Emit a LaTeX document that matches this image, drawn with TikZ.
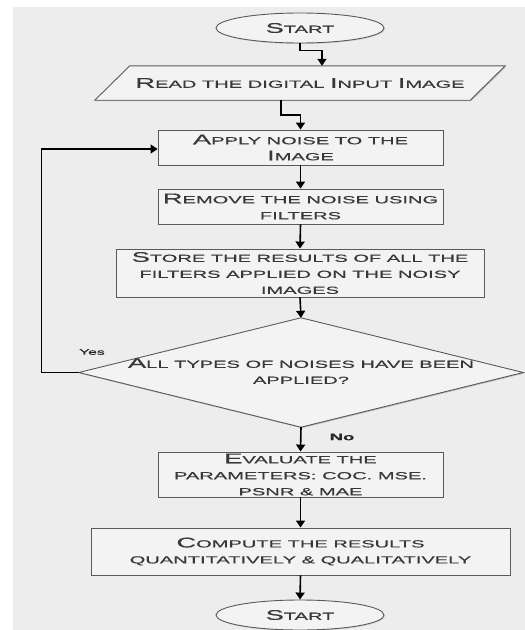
\documentclass[tikz,border=0pt]{standalone}
\usepackage{fontspec}
\setmainfont[FakeStretch=1.95,FakeBold=0.4]{Liberation Sans}
\usetikzlibrary{shapes.geometric,arrows.meta,calc,shadows}
\newcommand\Bg[1]{{\fontsize{14}{16}\selectfont #1}}
\definecolor{bgray}{HTML}{EDEDED}
\definecolor{boxfill}{HTML}{F3F3F3}
\definecolor{boxline}{HTML}{5A5A5A}
\tikzset{
  basefont/.style={font=\fontsize{10.3}{16}\selectfont, text=black!78},
  procbox/.style={basefont, draw=boxline, fill=boxfill, line width=0.9pt, align=center, inner sep=0pt,
    drop shadow={opacity=0.25, shadow xshift=1pt, shadow yshift=-1pt}},
  termbox/.style={procbox, ellipse},
  plain/.style={basefont, align=center, inner sep=0pt},
  arr/.style={line width=1.6pt, black, -{Triangle[length=7pt,width=9pt]}},
  lbl/.style={text=black!85, inner sep=0pt}
}
\begin{document}
\begin{tikzpicture}[x=1pt,y=-1pt]
\useasboundingbox (0,0) rectangle (525,630);
\fill[white] (0,0) rectangle (525,630);
\fill[bgray] (13,7) rectangle (525,630);

\node[termbox, minimum width=168pt, minimum height=30pt] (start) at (300,28) {\Bg{S}TART};

\node[plain, minimum width=375pt, minimum height=34pt] (read) at (300,83) {};
\fill[black, opacity=0.2] ($(read.north west)+(18.5,1)$) -- ($(read.north east)+(18.5,1)$) -- ($(read.south east)+(-16.5,1)$) -- ($(read.south west)+(-16.5,1)$) -- cycle;
\filldraw[draw=boxline, fill=boxfill, line width=0.9pt] ($(read.north west)+(17.5,0)$) -- ($(read.north east)+(17.5,0)$) -- ($(read.south east)+(-17.5,0)$) -- ($(read.south west)+(-17.5,0)$) -- cycle;
\node[plain] (readtext) at (read.center) {\Bg{R}EAD THE DIGITAL \Bg{I}NPUT \Bg{I}MAGE};

\node[procbox, minimum width=285pt, minimum height=35pt] (apply) at (300.5,147.5) {\Bg{A}PPLY NOISE TO THE\\\Bg{I}MAGE};
\node[procbox, minimum width=285pt, minimum height=35pt] (remove) at (300.5,206.5) {\Bg{R}EMOVE THE NOISE USING\\FILTERS};
\node[procbox, minimum width=368pt, minimum height=48pt] (store) at (300,273) {\Bg{S}TORE THE RESULTS OF ALL THE\\FILTERS APPLIED ON THE NOISY\\IMAGES};

\node[plain, minimum width=444pt, minimum height=109pt] (dec) at (301,372.5) {};
\fill[black, opacity=0.2] ($(dec.north)+(1,1)$) -- ($(dec.east)+(1,1)$) -- ($(dec.south)+(1,1)$) -- ($(dec.west)+(1,1)$) -- cycle;
\filldraw[draw=boxline, fill=boxfill, line width=0.9pt] (dec.north) -- (dec.east) -- (dec.south) -- (dec.west) -- cycle;
\node[plain] (dectext) at (301,371) {\Bg{A}LL TYPES OF NOISES HAVE BEEN\\APPLIED?};

\node[procbox, minimum width=285pt, minimum height=45pt] (eval) at (300.5,474.5) {\Bg{E}VALUATE THE\\PARAMETERS: COC. MSE.\\PSNR \& MAE};
\node[procbox, minimum width=419pt, minimum height=47pt] (compute) at (300.5,551.5) {\Bg{C}OMPUTE THE RESULTS\\QUANTITATIVELY \& QUALITATIVELY};
\node[termbox, minimum width=168pt, minimum height=30pt] (stop) at (300,615) {\Bg{S}TART};

\coordinate (rin) at ($(read.north)+(22,0)$);
\coordinate (rout) at ($(read.south)+(-19,0)$);
\draw[arr] (start.south) -- ++(0,7) -| (rin);
\draw[arr] (rout) -- ++(0,15) -| (apply.north);
\draw[arr] (apply.south) -- (remove.north);
\draw[arr] (remove.south) -- (store.north);
\draw[arr] (store.south) -- (dec.north);
\draw[arr] (dec.south) -- (eval.north);
\draw[arr] (eval.south) -- (compute.north);
\draw[arr] (compute.south) -- (stop.north);
\draw[arr, line width=1.3pt] (dec.west) -- ++(-37,0) |- ($(apply.west)+(0,1.5)$);

\node[lbl, font=\fontsize{8}{8}\selectfont] (yes) at (92,352) {Yes};
\node[lbl, font=\fontsize{9.5}{9.5}\selectfont\bfseries] (no) at (342,437) {No};
\end{tikzpicture}
\end{document}
